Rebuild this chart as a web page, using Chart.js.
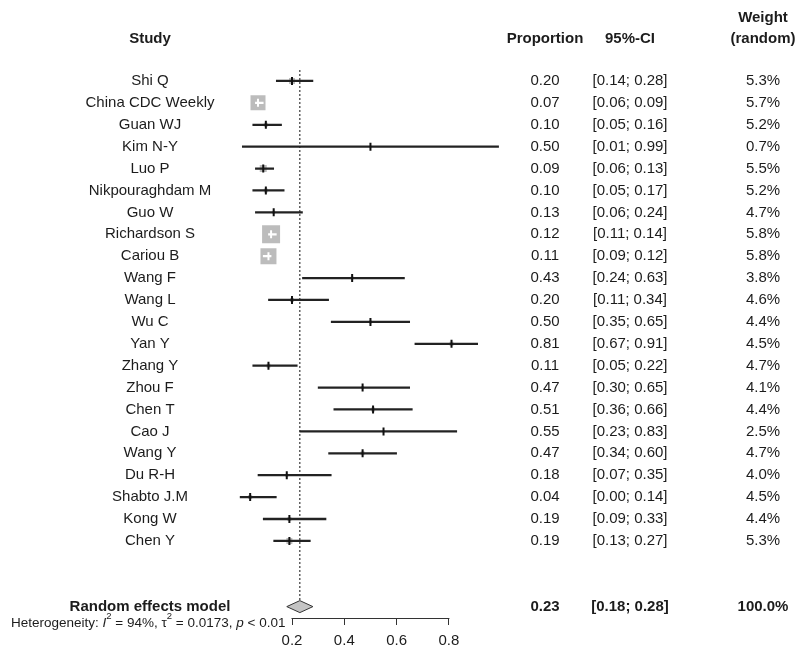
<!DOCTYPE html>
<html>
<head>
<meta charset="utf-8">
<script src="https://cdn.jsdelivr.net/npm/chart.js@4/dist/chart.umd.min.js"></script>
<style>
  body { margin: 0; background: #fff; }
  #wrap { width: 796px; height: 657px; }
</style>
</head>
<body>
<div id="wrap"><canvas id="forest" width="796" height="657"></canvas></div>
<script>
// study rows (top to bottom)
const studies = ['Shi Q', 'China CDC Weekly', 'Guan WJ', 'Kim N-Y', 'Luo P', 'Nikpouraghdam M', 'Guo W',
  'Richardson S', 'Cariou B', 'Wang F', 'Wang L', 'Wu C', 'Yan Y', 'Zhang Y', 'Zhou F', 'Chen T',
  'Cao J', 'Wang Y', 'Du R-H', 'Shabto J.M', 'Kong W', 'Chen Y'];
const proportion = [0.20, 0.07, 0.10, 0.50, 0.09, 0.10, 0.13, 0.12, 0.11, 0.43, 0.20, 0.50, 0.81, 0.11,
  0.47, 0.51, 0.55, 0.47, 0.18, 0.04, 0.19, 0.19];
const ciLower = [0.14, 0.06, 0.05, 0.01, 0.06, 0.05, 0.06, 0.11, 0.09, 0.24, 0.11, 0.35, 0.67, 0.05,
  0.30, 0.36, 0.23, 0.34, 0.07, 0.00, 0.09, 0.13];
const ciUpper = [0.28, 0.09, 0.16, 0.99, 0.13, 0.17, 0.24, 0.14, 0.12, 0.63, 0.34, 0.65, 0.91, 0.22,
  0.65, 0.66, 0.83, 0.60, 0.35, 0.14, 0.33, 0.27];
const weightRandom = [5.3, 5.7, 5.2, 0.7, 5.5, 5.2, 4.7, 5.8, 5.8, 3.8, 4.6, 4.4, 4.5, 4.7, 4.1, 4.4,
  2.5, 4.7, 4.0, 4.5, 4.4, 5.3];

// pooled estimate
const summaryLabel = 'Random effects model';
const summary = [0.23, 0.18, 0.28];   // estimate, lower, upper
const summaryWeight = 100.0;

// x axis ticks
const tickValues = [0.2, 0.4, 0.6, 0.8];

// --- style only below here ---
const markerSide = [6, 15, 4, 2, 7, 4, 3, 18, 16, 3, 4, 3, 4, 4, 3, 4, 2, 4, 3, 4, 4, 6]; // box side px
const summaryRow = 24;
const FONT = '"Liberation Sans", Arial, sans-serif';
const INK = '#1c1c1c';
const col = { study: 150, prop: 545, ci: 630, weight: 763 };

const rows = studies.map((s, i) => i);
const fmt2 = v => v.toFixed(2);

function ciColor(c) {
  const i = c.dataIndex;
  const xs = c.chart.scales.x;
  const w = xs.getPixelForValue(ciUpper[i]) - xs.getPixelForValue(ciLower[i]);
  return w < markerSide[i] ? '#ffffff' : '#222222';
}

const forestText = {
  id: 'forestText',
  beforeDatasetsDraw(chart) {
    const { ctx, scales: { x, y }, chartArea } = chart;
    const px = x.getPixelForValue(summary[0]);
    ctx.save();
    ctx.strokeStyle = '#111';
    ctx.lineWidth = 1;
    ctx.setLineDash([2, 2]);
    ctx.beginPath();
    ctx.moveTo(px, chartArea.top);
    ctx.lineTo(px, y.getPixelForValue(summaryRow) - 6);
    ctx.stroke();
    ctx.restore();
  },
  afterDatasetsDraw(chart) {
    const { ctx, scales: { x, y }, chartArea } = chart;
    ctx.save();

    // axis line only over the tick range
    ctx.strokeStyle = '#333';
    ctx.lineWidth = 1;
    ctx.beginPath();
    ctx.moveTo(x.getPixelForValue(tickValues[0]) - 0.5, chartArea.bottom + 0.5);
    ctx.lineTo(x.getPixelForValue(tickValues[tickValues.length - 1]) + 0.5, chartArea.bottom + 0.5);
    ctx.stroke();

    ctx.fillStyle = INK;
    ctx.textBaseline = 'middle';
    ctx.textAlign = 'center';

    // header
    const hy = y.getPixelForValue(0) - 42;
    ctx.font = 'bold 15px ' + FONT;
    ctx.fillText('Study', col.study, hy);
    ctx.fillText('Proportion', col.prop, hy);
    ctx.fillText('95%-CI', col.ci, hy);
    ctx.fillText('Weight', col.weight, hy - 21);
    ctx.fillText('(random)', col.weight, hy);

    // study rows
    ctx.font = '15px ' + FONT;
    studies.forEach((s, i) => {
      const py = y.getPixelForValue(i);
      ctx.fillText(s, col.study, py);
      ctx.fillText(fmt2(proportion[i]), col.prop, py);
      ctx.fillText('[' + fmt2(ciLower[i]) + '; ' + fmt2(ciUpper[i]) + ']', col.ci, py);
      ctx.fillText(weightRandom[i].toFixed(1) + '%', col.weight, py);
    });

    // summary row
    const sy = y.getPixelForValue(summaryRow);
    ctx.font = 'bold 15px ' + FONT;
    ctx.fillText(summaryLabel, col.study, sy);
    ctx.fillText(fmt2(summary[0]), col.prop, sy);
    ctx.fillText('[' + fmt2(summary[1]) + '; ' + fmt2(summary[2]) + ']', col.ci, sy);
    ctx.fillText(summaryWeight.toFixed(1) + '%', col.weight, sy);

    // diamond
    const dl = x.getPixelForValue(summary[1]);
    const dc = x.getPixelForValue(summary[0]);
    const dr = x.getPixelForValue(summary[2]);
    ctx.beginPath();
    ctx.moveTo(dl, sy);
    ctx.lineTo(dc, sy - 6);
    ctx.lineTo(dr, sy);
    ctx.lineTo(dc, sy + 6);
    ctx.closePath();
    ctx.fillStyle = '#c4c4c4';
    ctx.fill();
    ctx.strokeStyle = '#333';
    ctx.lineWidth = 1;
    ctx.stroke();

    // heterogeneity line, pieces with italics and superscripts
    const parts = [
      ['Heterogeneity: ', '', 0], ['I', 'italic ', 0], ['2', '', 1], [' = 94%, \u03c4', '', 0],
      ['2', '', 1], [' = 0.0173, ', '', 0], ['p', 'italic ', 0], [' < 0.01', '', 0]
    ];
    let tx = 11;
    const ty = chartArea.bottom + 5;
    ctx.textAlign = 'left';
    ctx.fillStyle = INK;
    parts.forEach(([t, st, sup]) => {
      ctx.font = st + (sup ? '9.5px ' : '13.5px ') + FONT;
      ctx.fillText(t, tx, sup ? ty - 7 : ty);
      tx += ctx.measureText(t).width;
    });
    ctx.restore();
  }
};

new Chart(document.getElementById('forest'), {
  type: 'scatter',
  data: {
    datasets: [
      {
        // estimate tick marks
        type: 'scatter',
        order: 1,
        data: rows.map(i => ({ x: proportion[i], y: i })),
        pointStyle: 'line',
        rotation: 90,
        pointRadius: 4,
        borderWidth: 2,
        pointBorderColor: rows.map(i => markerSide[i] > 10 ? '#ffffff' : '#111111'),
        pointHoverRadius: 4
      },
      {
        // confidence intervals
        type: 'bar',
        order: 2,
        indexAxis: 'y',
        data: rows.map(i => ({ x: [ciLower[i], ciUpper[i]], y: i })),
        backgroundColor: ciColor,
        barThickness: 1.6,
        borderWidth: 0,
        grouped: false
      },
      {
        // weight boxes
        type: 'scatter',
        order: 3,
        data: rows.map(i => ({ x: proportion[i], y: i })),
        pointStyle: 'rect',
        pointRadius: rows.map(i => markerSide[i] / Math.SQRT2),
        pointHoverRadius: rows.map(i => markerSide[i] / Math.SQRT2),
        pointBackgroundColor: '#bcbcbc',
        pointBorderColor: '#bcbcbc',
        pointBorderWidth: 0
      }
    ]
  },
  options: {
    responsive: false,
    animation: false,
    events: [],
    layout: { padding: { left: 239.7, right: 294.8, top: 70, bottom: 0 } },
    plugins: { legend: { display: false }, tooltip: { enabled: false } },
    scales: {
      x: {
        type: 'linear',
        min: 0,
        max: 1,
        offset: false,
        afterBuildTicks: s => { s.ticks = tickValues.map(v => ({ value: v })); },
        ticks: {
          color: INK,
          padding: 7,
          font: { family: FONT, size: 15 },
          callback: v => Number(v).toFixed(1)
        },
        grid: { drawOnChartArea: false, drawTicks: true, tickLength: 7, color: '#333', lineWidth: 1, offset: false },
        border: { display: false }
      },
      y: {
        type: 'linear',
        display: false,
        reverse: true,
        offset: false,
        grid: { offset: false },
        min: -0.5,
        max: 24.52
      }
    }
  },
  plugins: [forestText]
});
</script>
</body>
</html>
